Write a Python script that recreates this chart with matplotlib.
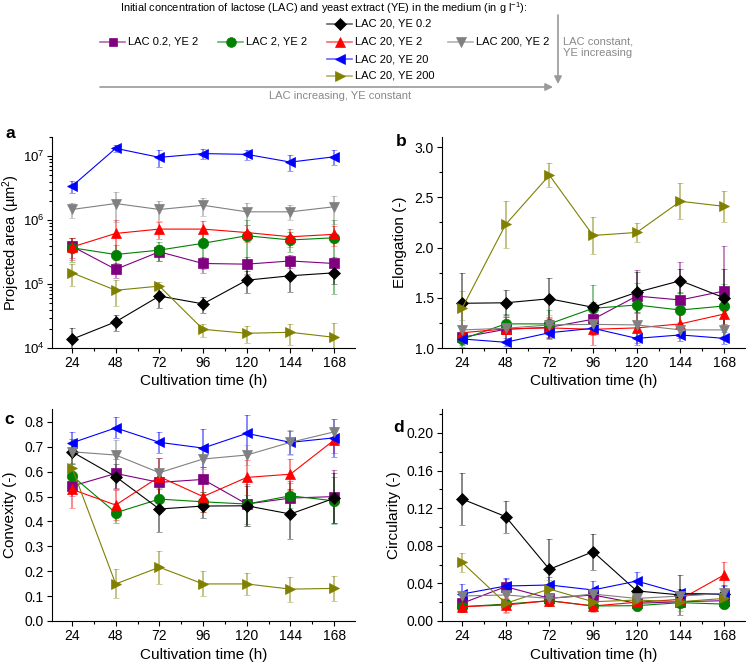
import numpy as np
import matplotlib
import matplotlib.pyplot as plt
from matplotlib.ticker import MultipleLocator, FormatStrFormatter
from matplotlib.colors import to_rgba

plt.rcParams['font.family'] = ['Liberation Sans', 'DejaVu Sans']
plt.rcParams['mathtext.fontset'] = 'custom'
plt.rcParams['mathtext.rm'] = 'Liberation Sans'
plt.rcParams['mathtext.it'] = 'Liberation Sans:italic'
plt.rcParams['mathtext.bf'] = 'Liberation Sans:bold'

# cultivation time (h)
time = [24, 48, 72, 96, 120, 144, 168]

labels = ['LAC 0.2, YE 2', 'LAC 2, YE 2', 'LAC 20, YE 0.2', 'LAC 20, YE 2',
          'LAC 20, YE 20', 'LAC 20, YE 200', 'LAC 200, YE 2']

# projected area (um^2): mean and sd
area_mean = [
    [3.9e5, 1.7e5, 3.2e5, 2.1e5, 2.05e5, 2.3e5, 2.1e5],
    [3.7e5, 2.9e5, 3.4e5, 4.35e5, 5.7e5, 4.9e5, 5.3e5],
    [1.37e4, 2.57e4, 6.5e4, 4.9e4, 1.15e5, 1.35e5, 1.5e5],
    [3.8e5, 6.2e5, 7.25e5, 7.25e5, 6.4e5, 5.5e5, 6.0e5],
    [3.4e6, 1.33e7, 9.6e6, 1.1e7, 1.07e7, 8.1e6, 9.8e6],
    [1.5e5, 8.0e4, 9.3e4, 1.96e4, 1.7e4, 1.76e4, 1.47e4],
    [1.47e6, 1.82e6, 1.47e6, 1.71e6, 1.35e6, 1.35e6, 1.62e6],
]
area_sd = [
    [1.3e5, 4.5e4, 9e4, 6e4, 6e4, 5e4, 6e4],
    [1.5e5, 1.2e5, 1.1e5, 2.6e5, 4.3e5, 1.7e5, 4.6e5],
    [7e3, 7.5e3, 2.2e4, 1.4e4, 4.3e4, 6e4, 5e4],
    [1.4e5, 3.8e5, 2.2e5, 2.3e5, 1.9e5, 1.7e5, 2e5],
    [7e5, 1.5e6, 2.8e6, 1.9e6, 1.9e6, 2.3e6, 2.6e6],
    [5.5e4, 3.4e4, 1.5e4, 4.5e3, 5e3, 6.5e3, 9.5e3],
    [4e5, 9e5, 5e5, 5.3e5, 5e5, 3.6e5, 7.5e5],
]

# elongation (-)
elong_mean = [
    [1.106, 1.186, 1.206, 1.286, 1.517, 1.478, 1.567],
    [1.087, 1.24, 1.24, 1.395, 1.428, 1.378, 1.418],
    [1.445, 1.45, 1.49, 1.405, 1.554, 1.67, 1.50],
    [1.152, 1.19, 1.20, 1.186, 1.20, 1.24, 1.338],
    [1.09, 1.057, 1.152, 1.196, 1.096, 1.13, 1.096],
    [1.395, 2.23, 2.72, 2.12, 2.15, 2.46, 2.41],
    [1.18, 1.196, 1.23, 1.235, 1.23, 1.18, 1.18],
]
elong_sd = [
    [0.05, 0.12, 0.1, 0.15, 0.26, 0.38, 0.45],
    [0.08, 0.1, 0.14, 0.23, 0.22, 0.18, 0.22],
    [0.30, 0.125, 0.21, 0.05, 0.2, 0.12, 0.29],
    [0.05, 0.12, 0.1, 0.16, 0.15, 0.1, 0.1],
    [0.06, 0.04, 0.06, 0.07, 0.07, 0.06, 0.06],
    [0.17, 0.23, 0.12, 0.18, 0.095, 0.18, 0.155],
    [0.1, 0.12, 0.1, 0.1, 0.12, 0.08, 0.06],
]

# convexity (-)
conv_mean = [
    [0.542, 0.593, 0.557, 0.569, 0.47, 0.494, 0.50],
    [0.584, 0.435, 0.49, 0.479, 0.47, 0.503, 0.483],
    [0.68, 0.58, 0.45, 0.462, 0.463, 0.43, 0.493],
    [0.529, 0.466, 0.58, 0.50, 0.577, 0.59, 0.727],
    [0.716, 0.776, 0.718, 0.695, 0.754, 0.718, 0.736],
    [0.616, 0.149, 0.216, 0.149, 0.149, 0.128, 0.131],
    [0.68, 0.667, 0.596, 0.651, 0.667, 0.718, 0.76],
]
conv_sd = [
    [0.04, 0.06, 0.1, 0.05, 0.08, 0.07, 0.107],
    [0.05, 0.04, 0.04, 0.04, 0.09, 0.05, 0.095],
    [0.05, 0.05, 0.094, 0.05, 0.08, 0.1, 0.1],
    [0.074, 0.06, 0.075, 0.06, 0.07, 0.063, 0.053],
    [0.045, 0.042, 0.043, 0.078, 0.073, 0.045, 0.075],
    [0.05, 0.058, 0.067, 0.05, 0.045, 0.05, 0.05],
    [0.05, 0.06, 0.06, 0.04, 0.04, 0.05, 0.05],
]

# circularity (-)
circ_mean = [
    [0.0188, 0.0365, 0.0241, 0.0277, 0.0188, 0.0205, 0.0216],
    [0.0152, 0.018, 0.0216, 0.016, 0.0163, 0.0195, 0.018],
    [0.1298, 0.111, 0.055, 0.0737, 0.032, 0.0277, 0.0287],
    [0.0152, 0.017, 0.0216, 0.016, 0.0199, 0.023, 0.049],
    [0.0287, 0.0372, 0.0383, 0.033, 0.0425, 0.0294, 0.0287],
    [0.0624, 0.0188, 0.034, 0.0205, 0.0223, 0.0205, 0.024],
    [0.0266, 0.0277, 0.024, 0.0287, 0.024, 0.0266, 0.0294],
]
circ_sd = [
    [0.004, 0.008, 0.006, 0.006, 0.005, 0.006, 0.008],
    [0.004, 0.004, 0.005, 0.004, 0.004, 0.004, 0.004],
    [0.028, 0.017, 0.032, 0.019, 0.01, 0.021, 0.01],
    [0.004, 0.007, 0.006, 0.006, 0.005, 0.008, 0.014],
    [0.011, 0.009, 0.008, 0.01, 0.01, 0.005, 0.008],
    [0.01, 0.01, 0.01, 0.006, 0.006, 0.01, 0.006],
    [0.005, 0.004, 0.004, 0.004, 0.004, 0.004, 0.006],
]

colors = ['#800080', '#008000', '#000000', '#ff0000', '#0000ff', '#808000', '#808080']
markers = ['s', 'o', 'D', '^', '<', '>', 'v']
msizes = [6.5, 7.5, 6.5, 7.5, 7.5, 7.5, 7.5]

fig = plt.figure(figsize=(7.46, 6.63), dpi=100)
W, H = 746.0, 663.0


def panel(left, top, bottom):
    return fig.add_axes([left / W, (H - bottom) / H, 303 / W, (bottom - top) / H])


def draw(ax, means, sds):
    for i in range(len(labels)):
        c = colors[i]
        ax.errorbar(time, means[i], yerr=sds[i], color=c, marker=markers[i],
                    ms=msizes[i], lw=0.8, elinewidth=1.2, capsize=2.2,
                    capthick=1.0, ecolor=to_rgba(c, 0.55), markeredgewidth=0.5)
    ax.set_xlim(13, 179.5)
    ax.xaxis.set_major_locator(MultipleLocator(24))
    ax.xaxis.set_minor_locator(MultipleLocator(12))
    ax.set_xlabel('Cultivation time (h)', fontsize=11, labelpad=3)
    for s in ['top', 'right']:
        ax.spines[s].set_visible(False)
    ax.tick_params(which='both', direction='out', labelsize=10, width=0.8, pad=2.5)
    ax.tick_params(which='major', length=3.5)
    ax.tick_params(which='minor', length=2)


ax_a = panel(52, 137, 348)
draw(ax_a, area_mean, area_sd)
ax_a.set_yscale('log')
ax_a.set_ylim(1e4, 2e7)
ax_a.tick_params(axis='y', which='major', labelsize=9.5, pad=2)
ax_a.set_ylabel('Projected area (µm$^2$)', fontsize=10.5)
ax_a.yaxis.set_label_coords(-0.098, 0.5)

ax_b = panel(442, 137, 348)
draw(ax_b, elong_mean, elong_sd)
ax_b.set_ylim(1.0, 3.1)
ax_b.yaxis.set_major_locator(MultipleLocator(0.5))
ax_b.yaxis.set_minor_locator(MultipleLocator(0.25))
ax_b.yaxis.set_major_formatter(FormatStrFormatter('%.1f'))
ax_b.set_ylabel('Elongation (-)', fontsize=11, labelpad=5)

ax_c = panel(52, 409, 621)
draw(ax_c, conv_mean, conv_sd)
ax_c.set_ylim(0, 0.852)
ax_c.yaxis.set_major_locator(MultipleLocator(0.1))
ax_c.yaxis.set_major_formatter(FormatStrFormatter('%.1f'))
ax_c.set_ylabel('Convexity (-)', fontsize=11, labelpad=5)

ax_d = panel(442, 409, 621)
draw(ax_d, circ_mean, circ_sd)
ax_d.set_ylim(0, 0.2255)
ax_d.yaxis.set_major_locator(MultipleLocator(0.04))
ax_d.yaxis.set_minor_locator(MultipleLocator(0.02))
ax_d.yaxis.set_major_formatter(FormatStrFormatter('%.2f'))
ax_d.set_ylabel('Circularity (-)', fontsize=11, labelpad=4)

# overlay in pixel coordinates for the legend block and panel letters
ov = fig.add_axes([0, 0, 1, 1], zorder=-1)
ov.set_xlim(0, W)
ov.set_ylim(H, 0)
ov.axis('off')

for letter, x, y in [('a', 10, 133), ('b', 401, 141), ('c', 9, 419), ('d', 399, 428)]:
    ov.text(x, y, letter, fontsize=12.5, fontweight='bold', ha='center', va='center')

ov.text(324, 8, 'Initial concentration of lactose (LAC) and yeast extract (YE) '
        'in the medium (in g l$^{-1}$):', fontsize=7.9, ha='center', va='center')

entry_pos = [(100, 42), (218, 42), (327, 24), (327, 42), (327, 59), (327, 76), (448, 42)]
for i, (x, y) in enumerate(entry_pos):
    ov.plot([x, x + 25], [y, y], color=to_rgba(colors[i], 0.6), lw=1.2)
    ov.plot([x + 12.5], [y], marker=markers[i], color=colors[i], ms=msizes[i] - 0.5,
            markeredgewidth=0.5, ls='none')
    ov.text(x + 28, y, labels[i], fontsize=8, ha='left', va='center')

grey = '#9a9a9a'
ov.annotate('', xy=(553, 87), xytext=(100, 87),
            arrowprops=dict(arrowstyle='-|>', color=grey, lw=1.2, mutation_scale=11,
                            shrinkA=0, shrinkB=0))
ov.annotate('', xy=(558, 84), xytext=(558, 15),
            arrowprops=dict(arrowstyle='-|>', color=grey, lw=1.2, mutation_scale=11,
                            shrinkA=0, shrinkB=0))
ov.text(340, 96, 'LAC increasing, YE constant', fontsize=8, color='#888888',
        ha='center', va='center')
ov.text(563, 47, 'LAC constant,\nYE increasing', fontsize=8, color='#888888',
        ha='left', va='center', linespacing=1.25)

fig.savefig('out.png', dpi=100)
